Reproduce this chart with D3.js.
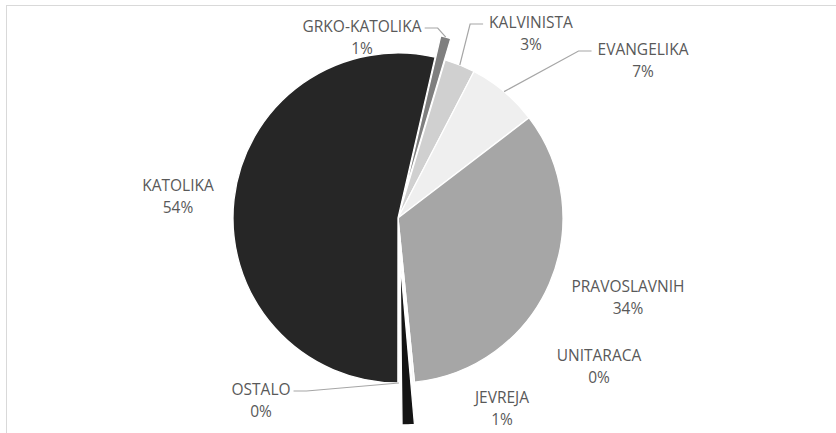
<html>
<head>
<script src="https://d3js.org/d3.v7.min.js"></script>
<style>
  body { margin: 0; background: #fff; }
  .lbl { font-family: "Open Sans", sans-serif; font-size: 15.5px; fill: #595959; }
  .leader { fill: none; stroke: #a6a6a6; stroke-width: 1.2px; }
</style>
</head>
<body>
<svg id="chart" width="836" height="433"></svg>
<script>
// data, clockwise from the first slice
var names   = ["GRKO-KATOLIKA", "KALVINISTA", "EVANGELIKA", "PRAVOSLAVNIH", "UNITARACA", "JEVREJA", "OSTALO", "KATOLIKA"];
var values  = [1.0, 3.0, 7.0, 33.8, 0.2, 1.2, 0.2, 53.6];
var colors  = ["#7f7f7f", "#d0d0d0", "#efefef", "#a6a6a6", "#f2f2f2", "#141414", "#f2f2f2", "#262626"];
var explode = [22, 0, 0, 0, 0, 42, 0, 0];

// label layout: offset of the label from the pie centre, leader on/off
var labelDx = [-36, 133, 245, 230, 201, 104, -137, -220];
var labelDy = [-186, -190, -163, 74, 143, 185, 177, -27];
var leaderSide = [1, -1, -1, 0, 0, 0, 1, 0]; // 1 = leader leaves right of text, -1 = left

var svg = d3.select("#chart");
var cx = 398, cy = 218, r = 165;

svg.append("rect")
  .attr("x", 6.5).attr("y", 5.5)
  .attr("width", 900).attr("height", 500)
  .attr("fill", "none").attr("stroke", "#d9d9d9");

var total = d3.sum(values);
var data = names.map(function(n, i) { return { name: n, value: values[i], i: i }; });

var startDeg = 13;
var pie = d3.pie().sort(null).value(function(d) { return d.value; })
  .startAngle(startDeg * Math.PI / 180)
  .endAngle((startDeg + 360) * Math.PI / 180);
var arcs = pie(data);
var arc = d3.arc().innerRadius(0).outerRadius(r);

var g = svg.append("g").attr("transform", "translate(" + cx + "," + cy + ")");

function offset(d) {
  var a = (d.startAngle + d.endAngle) / 2, e = explode[d.data.i];
  return [e * Math.sin(a), -e * Math.cos(a)];
}

g.selectAll("path.slice")
  .data(arcs)
  .enter().append("path")
  .attr("class", "slice")
  .attr("d", arc)
  .attr("transform", function(d) { var o = offset(d); return "translate(" + o[0] + "," + o[1] + ")"; })
  .attr("fill", function(d) { return colors[d.data.i]; })
  .attr("stroke", "#fff")
  .attr("stroke-width", 1.3);

// labels
var lab = g.selectAll("text.lbl")
  .data(arcs)
  .enter().append("text")
  .attr("class", "lbl")
  .attr("text-anchor", "middle")
  .attr("x", function(d) { return labelDx[d.data.i]; })
  .attr("y", function(d) { return labelDy[d.data.i]; });
lab.append("tspan")
  .attr("x", function(d) { return labelDx[d.data.i]; })
  .text(function(d) { return d.data.name; });
lab.append("tspan")
  .attr("x", function(d) { return labelDx[d.data.i]; })
  .attr("dy", 22)
  .text(function(d) { return Math.round(d.data.value / total * 100) + "%"; });

// leader lines: short horizontal stub at the label, then to the slice edge
lab.each(function(d) {
  var side = leaderSide[d.data.i];
  if (!side) return;
  var tb = d3.select(this).select("tspan").node().getBBox();
  var sx = side > 0 ? tb.x + tb.width + 3 : tb.x - 6;
  var sy = labelDy[d.data.i] - 4;
  var a = (d.startAngle + d.endAngle) / 2, o = offset(d);
  var ex = o[0] + r * Math.sin(a), ey = o[1] - r * Math.cos(a);
  var hx = sx + side * 13;
  g.append("path").attr("class", "leader")
    .attr("d", "M" + sx + "," + sy + "L" + hx + "," + sy + "L" + ex + "," + ey);
});
</script>
</body>
</html>
